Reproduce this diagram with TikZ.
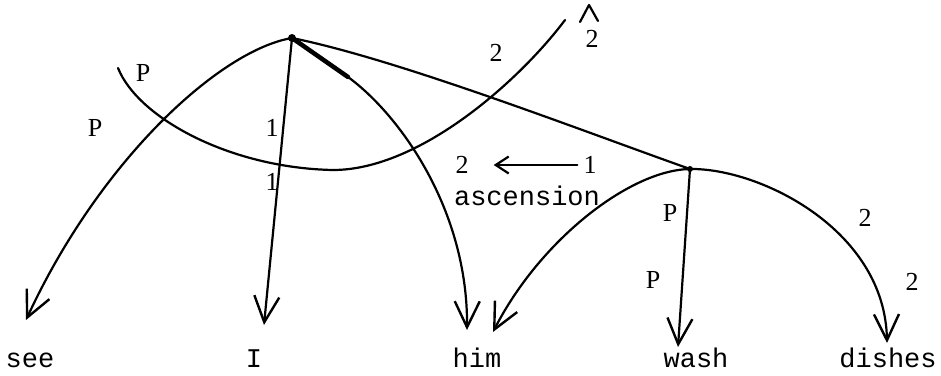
\documentclass[tikz,border=0pt]{standalone}
\usepackage{fontspec}
\setmainfont{Liberation Serif}
\setmonofont{Liberation Mono}
\usetikzlibrary{arrows.meta}
\begin{document}
\begin{tikzpicture}[x=1pt,y=-1pt,
  edge/.style={line width=2.2pt, line cap=round},
  arr/.style={edge, -{Straight Barb[length=26pt,width=25pt,line width=2.4pt]}},
  word/.style={font=\fontsize{27}{30}\selectfont\ttfamily, anchor=base, inner sep=0pt},
  lab/.style={font=\fontsize{26}{28}\selectfont, inner sep=0pt},
  dot/.style={ellipse, fill, inner sep=0pt, minimum width=9pt, minimum height=7pt}]
\useasboundingbox (0,0) rectangle (941,375);
% dependency points
\node[circle, fill, inner sep=0pt, minimum size=8pt] (top) at (292,38) {};
\node[circle, fill, inner sep=0pt, minimum size=6pt] (mid) at (690,169) {};
% arrow tips
\coordinate (seeT) at (26,320);
\coordinate (IT) at (264,325);
\coordinate (hk) at (348,77);
\coordinate (himT) at (467,330);
\coordinate (himT2) at (493,332);
\coordinate (washT) at (678,347);
\coordinate (dishT) at (887,343);
% ascension arc points
\coordinate (asc1) at (118,68);
\coordinate (asc2) at (333,170);
\coordinate (asc3) at (565,20);
% words
\node[word] (see) at (30,367) {see};
\node[word] (I) at (254,367) {I};
\node[word] (him) at (477,367) {him};
\node[word] (wash) at (696,367) {wash};
\node[word] (dishes) at (888,367) {dishes};
% arcs
\draw[arr] (top.center) .. controls (220,50) and (100,160) .. (seeT);
\draw[arr] (top.center) -- (IT);
\draw[arr] (top.center) -- (hk) .. controls (400,115) and (468,210) .. (himT);
\draw[edge, line width=4.5pt] (top.center) -- (hk);
\draw[edge] (top.center) .. controls (400,60) and (580,130) .. (mid.center);
\draw[edge] (asc1) .. controls (138,118) and (230,168) .. (asc2)
            .. controls (420,170) and (520,80) .. (asc3);
\draw[arr] (mid.center) .. controls (630,170) and (540,240) .. (himT2);
\draw[arr] (mid.center) -- (washT);
\draw[arr] (mid.center) .. controls (760,168) and (885,230) .. (dishT);
% labels
\node[lab] (pA) at (143,73) {P};
\node[lab] (pB) at (95,128) {P};
\node[lab] (oneA) at (272,128) {1};
\node[lab] (oneB) at (272,182) {1};
\node[lab] (twoA) at (496,53) {2};
\node[lab] (hat2) at (592,39) {2};
\draw[edge, line width=2.2pt, line join=round]
  (580,22) -- (589,5) -- (598,21);
\node[lab] (two) at (462,165) {2};
\node[lab] (one) at (590,165) {1};
\draw[edge, line width=2pt, shorten <=6pt, shorten >=25pt,
  -{Straight Barb[length=13pt,width=17pt,line width=2.2pt]}] (one.west) -- (two.east);
\node[word, anchor=center] (asc) at (527,196) {ascension};
\node[lab] (pC) at (670,213) {P};
\node[lab] (pD) at (653,280) {P};
\node[lab] (twoB) at (865,218) {2};
\node[lab] (twoC) at (912,282) {2};
\end{tikzpicture}
\end{document}
